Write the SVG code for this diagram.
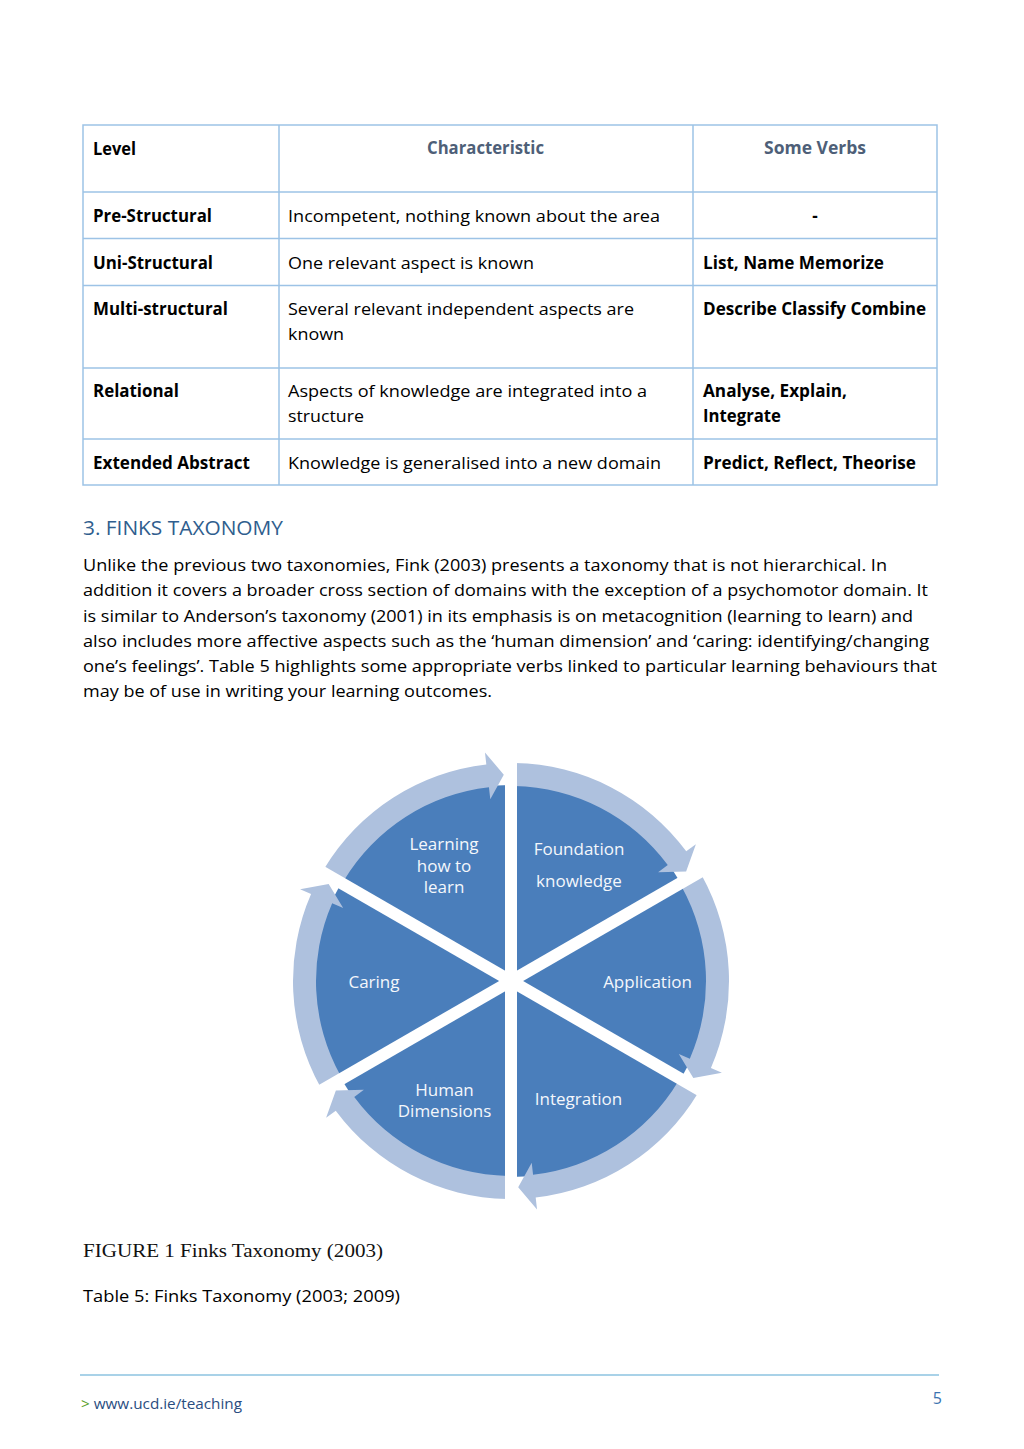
<svg xmlns="http://www.w3.org/2000/svg" width="1024" height="1449" viewBox="0 0 1024 1449">
<style>
.t{font-family:"Open Sans","Noto Sans","Liberation Sans",sans-serif;font-size:17px;fill:#000}
.b{font-weight:bold}
.h{fill:#4e5f78;font-weight:bold}
.grid{stroke:#9dc3e6;stroke-width:1.5;fill:none}
.pie{fill:#4a7ebb}
.lbl{font-family:"Open Sans","Noto Sans","Liberation Sans",sans-serif;font-size:17px;fill:#f4f7fb;text-anchor:middle}
.ring{fill:#aec1de}
.sep{stroke:#fff;stroke-width:12}
</style>
<rect width="1024" height="1449" fill="#fff"/>
<g id="table">
<rect class="grid" x="83" y="125" width="854" height="360"/>
<line class="grid" x1="279" y1="125" x2="279" y2="485"/>
<line class="grid" x1="693" y1="125" x2="693" y2="485"/>
<line class="grid" x1="83" y1="192" x2="937" y2="192"/>
<line class="grid" x1="83" y1="238.5" x2="937" y2="238.5"/>
<line class="grid" x1="83" y1="285.5" x2="937" y2="285.5"/>
<line class="grid" x1="83" y1="368" x2="937" y2="368"/>
<line class="grid" x1="83" y1="439" x2="937" y2="439"/>
<text class="t b" x="93" y="155" textLength="43" lengthAdjust="spacingAndGlyphs">Level</text>
<text class="t h" x="427" y="154" textLength="117" lengthAdjust="spacingAndGlyphs">Characteristic</text>
<text class="t h" x="764" y="154" textLength="102" lengthAdjust="spacingAndGlyphs">Some Verbs</text>
<text class="t b" x="93" y="222" textLength="119" lengthAdjust="spacingAndGlyphs">Pre-Structural</text>
<text class="t" x="288" y="222" textLength="372" lengthAdjust="spacingAndGlyphs">Incompetent, nothing known about the area</text>
<text class="t b" x="815" y="222" text-anchor="middle">-</text>
<text class="t b" x="93" y="268.5" textLength="120" lengthAdjust="spacingAndGlyphs">Uni-Structural</text>
<text class="t" x="288" y="268.5" textLength="246" lengthAdjust="spacingAndGlyphs">One relevant aspect is known</text>
<text class="t b" x="703" y="268.5" textLength="181" lengthAdjust="spacingAndGlyphs">List, Name Memorize</text>
<text class="t b" x="93" y="315" textLength="135" lengthAdjust="spacingAndGlyphs">Multi-structural</text>
<text class="t" x="288" y="315" textLength="346" lengthAdjust="spacingAndGlyphs">Several relevant independent aspects are</text>
<text class="t" x="288" y="340" textLength="56" lengthAdjust="spacingAndGlyphs">known</text>
<text class="t b" x="703" y="315" textLength="223" lengthAdjust="spacingAndGlyphs">Describe Classify Combine</text>
<text class="t b" x="93" y="397" textLength="86" lengthAdjust="spacingAndGlyphs">Relational</text>
<text class="t" x="288" y="397" textLength="359" lengthAdjust="spacingAndGlyphs">Aspects of knowledge are integrated into a</text>
<text class="t" x="288" y="422" textLength="76" lengthAdjust="spacingAndGlyphs">structure</text>
<text class="t b" x="703" y="397" textLength="144" lengthAdjust="spacingAndGlyphs">Analyse, Explain,</text>
<text class="t b" x="703" y="422" textLength="78" lengthAdjust="spacingAndGlyphs">Integrate</text>
<text class="t b" x="93" y="468.5" textLength="157" lengthAdjust="spacingAndGlyphs">Extended Abstract</text>
<text class="t" x="288" y="468.5" textLength="373" lengthAdjust="spacingAndGlyphs">Knowledge is generalised into a new domain</text>
<text class="t b" x="703" y="468.5" textLength="213" lengthAdjust="spacingAndGlyphs">Predict, Reflect, Theorise</text>
</g>
<g id="heading">
<text x="83" y="535" font-family="Open Sans, Noto Sans, sans-serif" font-size="20" fill="#2f5e8e" textLength="200" lengthAdjust="spacingAndGlyphs">3. FINKS TAXONOMY</text>
</g>
<g id="body">
<text class="t" x="83" y="571" textLength="804" lengthAdjust="spacingAndGlyphs">Unlike the previous two taxonomies, Fink (2003) presents a taxonomy that is not hierarchical. In</text>
<text class="t" x="83" y="596" textLength="845" lengthAdjust="spacingAndGlyphs">addition it covers a broader cross section of domains with the exception of a psychomotor domain. It</text>
<text class="t" x="83" y="621.5" textLength="830" lengthAdjust="spacingAndGlyphs">is similar to Anderson’s taxonomy (2001) in its emphasis is on metacognition (learning to learn) and</text>
<text class="t" x="83" y="646.5" textLength="846" lengthAdjust="spacingAndGlyphs">also includes more affective aspects such as the ‘human dimension’ and ‘caring: identifying/changing</text>
<text class="t" x="83" y="671.5" textLength="854" lengthAdjust="spacingAndGlyphs">one’s feelings’. Table 5 highlights some appropriate verbs linked to particular learning behaviours that</text>
<text class="t" x="83" y="697" textLength="409" lengthAdjust="spacingAndGlyphs">may be of use in writing your learning outcomes.</text>
</g>
<g id="learning">
<path class="pie" d="M511,981 L341.26,883 A196,196 0 0 1 511,785 Z"/>
<text class="lbl" x="444" y="850">Learning</text>
<text class="lbl" x="444" y="872">how to</text>
<text class="lbl" x="444" y="893">learn</text>
</g>
<g id="foundation">
<path class="pie" d="M511,981 L511,785 A196,196 0 0 1 680.74,883 Z"/>
<text class="lbl" x="579" y="855">Foundation</text>
<text class="lbl" x="579" y="887">knowledge</text>
</g>
<g id="application">
<path class="pie" d="M511,981 L680.74,883 A196,196 0 0 1 680.74,1079 Z"/>
<text class="lbl" x="647.5" y="988">Application</text>
</g>
<g id="integration">
<path class="pie" d="M511,981 L680.74,1079 A196,196 0 0 1 511,1177 Z"/>
<text class="lbl" x="578.5" y="1105">Integration</text>
</g>
<g id="human">
<path class="pie" d="M511,981 L511,1177 A196,196 0 0 1 341.26,1079 Z"/>
<text class="lbl" x="444.5" y="1096">Human</text>
<text class="lbl" x="444.5" y="1117">Dimensions</text>
</g>
<g id="caring">
<path class="pie" d="M511,981 L341.26,1079 A196,196 0 0 1 341.26,883 Z"/>
<text class="lbl" x="374" y="988">Caring</text>
</g>
<g id="connectors">
<path class="ring" d="M324.14,868.72 A218,218 0 0 1 486.32,764.40 L484.96,752.48 L503.79,774.63 L490.28,799.18 L488.93,787.25 A195,195 0 0 0 343.85,880.57 Z"/>
<path class="ring" d="M514.80,763.03 A218,218 0 0 1 686.24,851.33 L695.89,844.19 L686.12,871.57 L658.11,872.15 L667.75,865.01 A195,195 0 0 0 514.40,786.03 Z"/>
<path class="ring" d="M701.67,875.31 A218,218 0 0 1 710.92,1067.93 L721.92,1072.71 L693.33,1077.95 L678.82,1053.97 L689.83,1058.76 A195,195 0 0 0 681.55,886.46 Z"/>
<path class="ring" d="M697.86,1093.28 A218,218 0 0 1 535.68,1197.60 L537.04,1209.52 L518.21,1187.37 L531.72,1162.82 L533.07,1174.75 A195,195 0 0 0 678.15,1081.43 Z"/>
<path class="ring" d="M507.20,1198.97 A218,218 0 0 1 335.76,1110.67 L326.11,1117.81 L335.88,1090.43 L363.89,1089.85 L354.25,1096.99 A195,195 0 0 0 507.60,1175.97 Z"/>
<path class="ring" d="M320.33,1086.69 A218,218 0 0 1 311.08,894.07 L300.08,889.29 L328.67,884.05 L343.18,908.03 L332.17,903.24 A195,195 0 0 0 340.45,1075.54 Z"/>
</g>
<g id="separators">
<line class="sep" x1="303.15" y1="861" x2="718.85" y2="1101"/>
<line class="sep" x1="718.85" y1="861" x2="303.15" y2="1101"/>
<line class="sep" x1="511" y1="741" x2="511" y2="1221"/>
</g>
<g id="captions">
<text x="83" y="1257" font-family="Liberation Serif, serif" font-size="19" fill="#111" textLength="300" lengthAdjust="spacingAndGlyphs">FIGURE 1 Finks Taxonomy (2003)</text>
<text class="t" x="83" y="1302" textLength="317" lengthAdjust="spacingAndGlyphs">Table 5: Finks Taxonomy (2003; 2009)</text>
</g>
<g id="footer">
<line x1="80" y1="1375" x2="939" y2="1375" stroke="#8cc3e0" stroke-width="1.5"/>
<text x="81" y="1409" font-family="Open Sans, Noto Sans, sans-serif" font-size="15" fill="#2a4d7f" textLength="161" lengthAdjust="spacingAndGlyphs"><tspan fill="#5aa02c">&gt;</tspan> www.ucd.ie/teaching</text>
<text x="942" y="1404" font-family="Open Sans, Noto Sans, sans-serif" font-size="16" fill="#3b73b0" text-anchor="end">5</text>
</g>
</svg>
